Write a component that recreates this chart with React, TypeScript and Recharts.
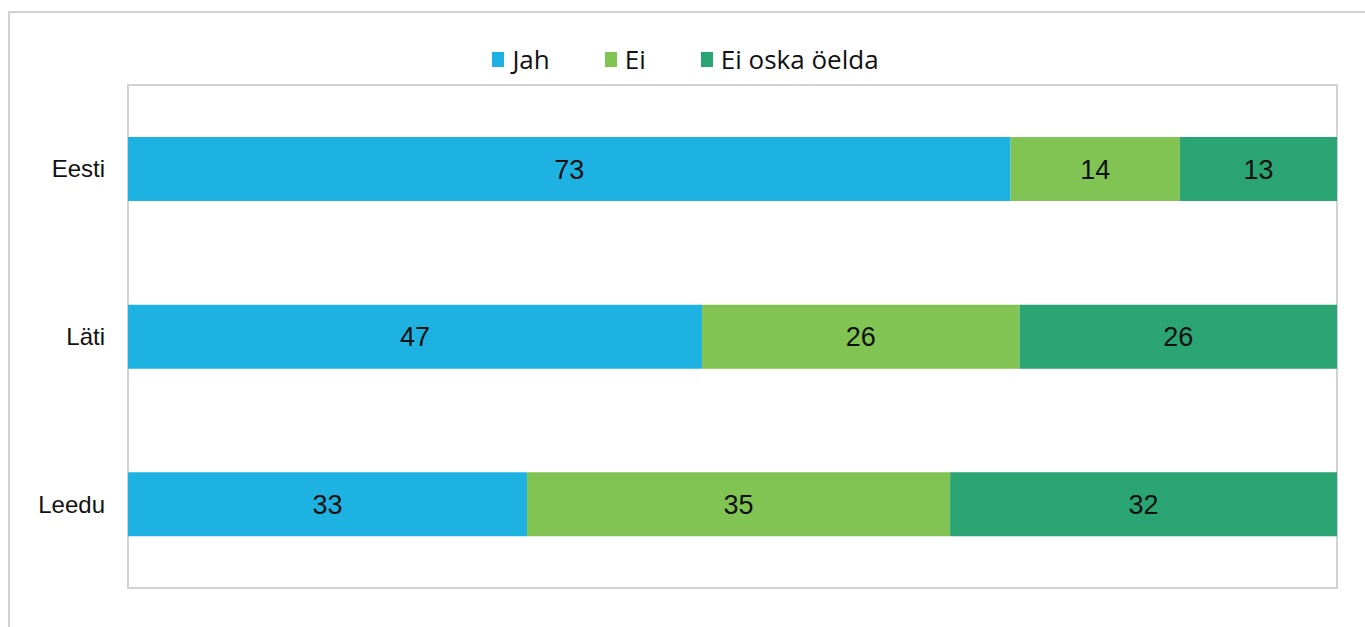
import { BarChart, Bar, XAxis, YAxis, Legend, LabelList, ReferenceArea } from "recharts";

const countries = ["Eesti", "Läti", "Leedu"];
const jah = [73, 47, 33];
const ei = [14, 26, 35];
const eiOska = [13, 26, 32];

const seriesNames = ["Jah", "Ei", "Ei oska öelda"];
const seriesKeys = ["jah", "ei", "eiOska"];
const seriesColors = ["#1eb2e2", "#82c453", "#29a472"];

const data = countries.map((c, i) => ({ country: c, jah: jah[i], ei: ei[i], eiOska: eiOska[i] }));

const LegendContent = () => (
    <div style={{ display: "flex", justifyContent: "center", gap: 55, paddingLeft: 34, fontFamily: "'Open Sans', sans-serif", fontSize: 26, color: "#111", lineHeight: "30px" }}>
        {seriesNames.map((name, i) => (
            <div key={name} style={{ display: "flex", alignItems: "center" }}>
                <span style={{ width: 12, height: 15, background: seriesColors[i], marginRight: 8, display: "inline-block" }} />
                <span>{name}</span>
            </div>
        ))}
    </div>
);

export default function App() {
    return (
        <div style={{ position: "absolute", left: 0, top: 0, width: 1365, height: 627, background: "#fff", overflow: "hidden" }}>
            {/* outer frame */}
            <div style={{ position: "absolute", left: 8, top: 11, width: 1400, height: 700, border: "2px solid #d2d2d2" }} />
            <BarChart
                width={1365}
                height={627}
                data={data}
                layout="vertical"
                stackOffset="expand"
                barCategoryGap="31%"
                margin={{ top: 55, right: 28, left: 0, bottom: 39 }}
                style={{ position: "absolute", left: 0, top: 0 }}
            >
                <XAxis type="number" domain={[0, 1]} hide />
                <YAxis
                    type="category"
                    dataKey="country"
                    width={128}
                    axisLine={false}
                    tickLine={false}
                    tickMargin={17}
                    tick={{ fill: "#111", fontSize: 24, fontFamily: "'Liberation Sans', Arial, sans-serif" }}
                />
                <Legend verticalAlign="top" height={30} wrapperStyle={{ top: 44 }} content={<LegendContent />} />
                <ReferenceArea x1={0} x2={1} fill="none" stroke="#d2d2d2" strokeWidth={2} ifOverflow="visible" />
                {seriesKeys.map((k, i) => (
                    <Bar key={k} dataKey={k} name={seriesNames[i]} stackId="a" fill={seriesColors[i]} isAnimationActive={false}>
                        <LabelList
                            dataKey={k}
                            position="center"
                            fill="#111"
                            style={{ fontSize: 27, fontFamily: "'Liberation Sans', Arial, sans-serif" }}
                        />
                    </Bar>
                ))}
            </BarChart>
        </div>
    );
}
